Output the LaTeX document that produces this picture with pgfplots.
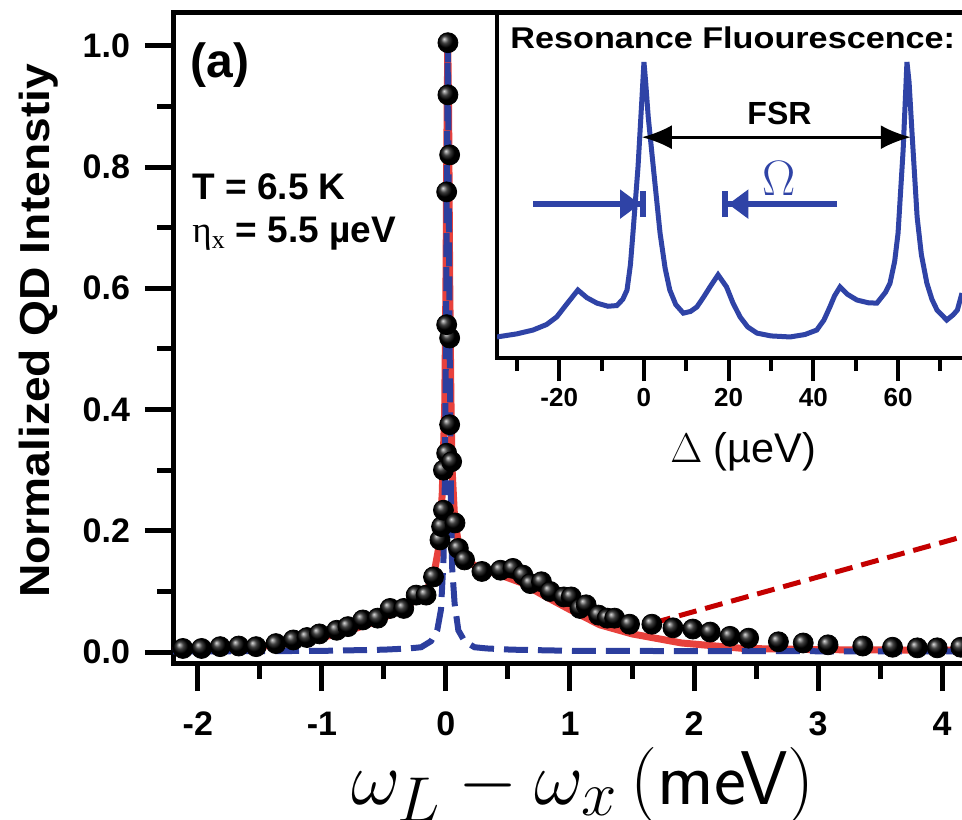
\documentclass[border=0pt]{standalone}
\usepackage[no-math]{fontspec}
\setmainfont{Liberation Sans}
\newfontfamily\serifgreek{Liberation Serif}
\newfontfamily\lmsans{Latin Modern Sans}
\usepackage{graphicx}
\usepackage{pgfplots}
\pgfplotsset{compat=1.18}
\usetikzlibrary{arrows.meta}

\definecolor{fitred}{RGB}{232,65,60}
\definecolor{fitblue}{RGB}{44,62,158}
\definecolor{dashred}{RGB}{196,0,0}
\definecolor{insetblue}{RGB}{47,67,166}

\pgfplotstableread{
x y
-2.12 0.006
-1.97 0.006
-1.82 0.009
-1.67 0.010
-1.53 0.009
-1.37 0.014
-1.23 0.020
-1.12 0.024
-1.02 0.030
-0.88 0.036
-0.79 0.042
-0.67 0.053
-0.55 0.056
-0.45 0.072
-0.34 0.072
-0.24 0.094
-0.16 0.094
-0.10 0.124
-0.048 0.185
-0.035 0.207
-0.02 0.234
0.073 0.213
-0.02 0.300
0.006 0.328
0.046 0.314
0.03 0.375
0.03 0.518
0.006 0.540
0.006 0.759
0.03 0.820
0.016 0.919
0.016 1.005
0.10 0.171
0.15 0.152
0.29 0.133
0.44 0.135
0.54 0.138
0.62 0.127
0.68 0.113
0.77 0.116
0.84 0.100
0.95 0.091
1.01 0.091
1.08 0.072
1.13 0.078
1.23 0.061
1.30 0.056
1.36 0.056
1.48 0.046
1.66 0.046
1.83 0.040
1.99 0.038
2.13 0.033
2.29 0.026
2.44 0.023
2.68 0.017
2.88 0.015
3.08 0.012
3.36 0.010
3.60 0.008
3.80 0.007
3.96 0.007
4.15 0.008
}\dataQD

\pgfplotstableread{
x y
-2.2 0.003
-1.8 0.005
-1.5 0.009
-1.2 0.016
-1.0 0.024
-0.8 0.034
-0.6 0.048
-0.4 0.066
-0.25 0.085
-0.15 0.105
-0.1 0.125
-0.06 0.17
-0.03 0.26
-0.01 0.40
0.0 0.60
0.008 0.85
0.015 1.0
0.022 0.88
0.03 0.62
0.04 0.42
0.05 0.30
0.07 0.22
0.10 0.18
0.15 0.155
0.25 0.14
0.4 0.13
0.6 0.115
0.8 0.092
1.0 0.07
1.24 0.045
1.5 0.03
1.9 0.015
2.4 0.006
3.0 0.004
4.2 0.003
}\fitTotal

\pgfplotstableread{
x y
-2.2 0.001
-1.0 0.002
-0.5 0.004
-0.3 0.006
-0.2 0.008
-0.12 0.018
-0.07 0.036
-0.04 0.07
-0.02 0.15
-0.01 0.26
0.0 0.50
0.008 0.80
0.015 1.0
0.022 0.80
0.03 0.50
0.04 0.26
0.05 0.14
0.07 0.08
0.10 0.036
0.15 0.018
0.23 0.008
0.33 0.006
0.53 0.004
1.03 0.002
4.2 0.001
}\fitPeak

\pgfplotstableread{
x y
-34.7 0.061
-30 0.070
-26.2 0.081
-23 0.097
-20.6 0.119
-18 0.160
-15.6 0.197
-13.5 0.175
-11.1 0.159
-8.5 0.150
-6.4 0.152
-5 0.170
-4 0.197
-3.2 0.270
-2.6 0.362
-1.4 0.554
-0.5 0.748
0 0.858
0.4 0.800
1.0 0.700
2.2 0.554
3.8 0.362
5 0.260
6.1 0.197
7.5 0.155
9.3 0.130
11 0.135
12.5 0.148
14 0.175
15.6 0.206
17.5 0.241
19.5 0.206
21 0.160
22.7 0.119
24.5 0.090
26.7 0.072
30 0.064
34.5 0.061
38 0.068
40.8 0.081
42.5 0.110
43.9 0.148
45 0.180
46.3 0.206
48 0.185
50.3 0.168
53 0.160
55 0.159
57 0.190
58.1 0.217
59.2 0.280
60 0.362
61.2 0.603
62.1 0.858
62.6 0.800
63.3 0.652
64.5 0.409
65.5 0.300
66.8 0.217
68 0.170
69.2 0.139
71.5 0.110
73 0.125
74 0.139
75.1 0.188
}\dataRF

\begin{document}
\begin{tikzpicture}
\begin{axis}[
  at={(0,0)}, anchor=south west,
  scale only axis, width=394.5pt, height=325pt,
  xmin=-2.2, xmax=4.16, ymin=-0.018, ymax=1.054,
  axis x line*=box, axis y line*=left,
  axis line style={line width=2.5pt, line cap=rect},
  tick align=outside, tick pos=left,
  xtick={-2,-1,0,1,2,3,4}, ytick={0,0.2,0.4,0.6,0.8,1.0},
  minor x tick num=1, minor y tick num=1,
  major tick length=14pt, minor tick length=8pt,
  tick style={line width=2.5pt, black},
  tick label style={font=\fontsize{17}{17}\selectfont\bfseries, /pgf/number format/assume math mode=true},
  xticklabel style={yshift=-7pt},
  yticklabel style={xshift=-4pt, /pgf/number format/.cd, fixed, fixed zerofill, precision=1},
  clip=false,
]
\addplot[fitred, line width=3.5pt] table {\fitTotal};
\addplot[fitblue, line width=3pt, dash pattern=on 12pt off 5pt] table {\fitPeak};
\addplot[only marks, mark=ball, mark size=5pt, mark options={ball color=black}] table {\dataQD};
\addplot[dashred, line width=2.5pt, dash pattern=on 9pt off 4.5pt] coordinates {(1.67,0.048) (4.16,0.190)};
\end{axis}

\begin{axis}[
  at={(162pt,152.5pt)}, anchor=south west,
  scale only axis, width=232.5pt, height=172.5pt,
  xmin=-34.7, xmax=75.1, ymin=0, ymax=1,
  axis x line*=box, axis y line*=left,
  axis line style={line width=2.2pt, line cap=rect},
  axis background/.style={fill=white},
  tick align=outside, tick pos=left, ytick=\empty,
  xtick={-20,0,20,40,60}, minor xtick={-30,-10,10,30,50,70},
  major tick length=11.5pt, minor tick length=6.5pt,
  tick style={line width=2pt, black},
  xticklabel style={font=\fontsize{13}{13}\selectfont\bfseries, /pgf/number format/assume math mode=true},
]
\addplot[insetblue, line width=2.5pt] table {\dataRF};
\draw[{Latex[length=15pt,width=12pt]}-{Latex[length=15pt,width=12pt]}, line width=1.5pt] (axis cs:-0.5,0.64) -- (axis cs:63,0.64);
\node[font=\fontsize{16}{16}\selectfont\bfseries] at (axis cs:32,0.71) {FSR};
\draw[insetblue, line width=3pt, -{Triangle[length=10pt,width=14pt]Bar[width=13pt,line width=3pt]}] (axis cs:-26.2,0.446) -- (axis cs:0.5,0.446);
\draw[insetblue, line width=3pt, -{Triangle[length=10pt,width=14pt]Bar[width=13pt,line width=3pt]}] (axis cs:45.6,0.446) -- (axis cs:18.5,0.446);
\node[insetblue, font=\fontsize{24.88}{25}\selectfont] at (axis cs:32,0.52) {$\Omega$};
\end{axis}

% texts
\node[anchor=base west, inner sep=0pt, font=\fontsize{24}{24}\selectfont\bfseries] at (8.5pt,292.5pt) {(a)};
\node[anchor=base west, inner sep=0pt, font=\fontsize{18.5}{20}\selectfont\bfseries] at (9.5pt,231.5pt) {T = 6.5 K};
\node[anchor=base west, inner sep=0pt, font=\fontsize{18.5}{20}\selectfont\bfseries] at (9.5pt,210pt) {{\serifgreek\mdseries η\textsubscript{x}} = 5.5 µeV};
\node[anchor=base west, inner sep=0pt, font=\fontsize{15}{15}\selectfont\bfseries] at (168.5pt,307pt) {\scalebox{1.14}[1]{Resonance Fluourescence:}};
\node[rotate=90, anchor=base, inner sep=0pt, font=\fontsize{21}{21}\selectfont\bfseries] at (-61.5pt,166pt) {\scalebox{1.1}[1]{Normalized QD Intenstiy}};
\node[anchor=base, inner sep=0pt] at (205pt,-70.5pt) {\scalebox{1.53}{\fontsize{24.88}{26}\selectfont$\omega_L - \omega_x\,(\hbox{\lmsans meV})$}};
\node[anchor=base west, inner sep=0pt, font=\fontsize{20.74}{21}\selectfont] at (248.5pt,100.5pt) {$\Delta$ (µeV)};

\pgfresetboundingbox
\useasboundingbox (-86.5pt,-78pt) rectangle (394.5pt,331.5pt);
\end{tikzpicture}
\end{document}
